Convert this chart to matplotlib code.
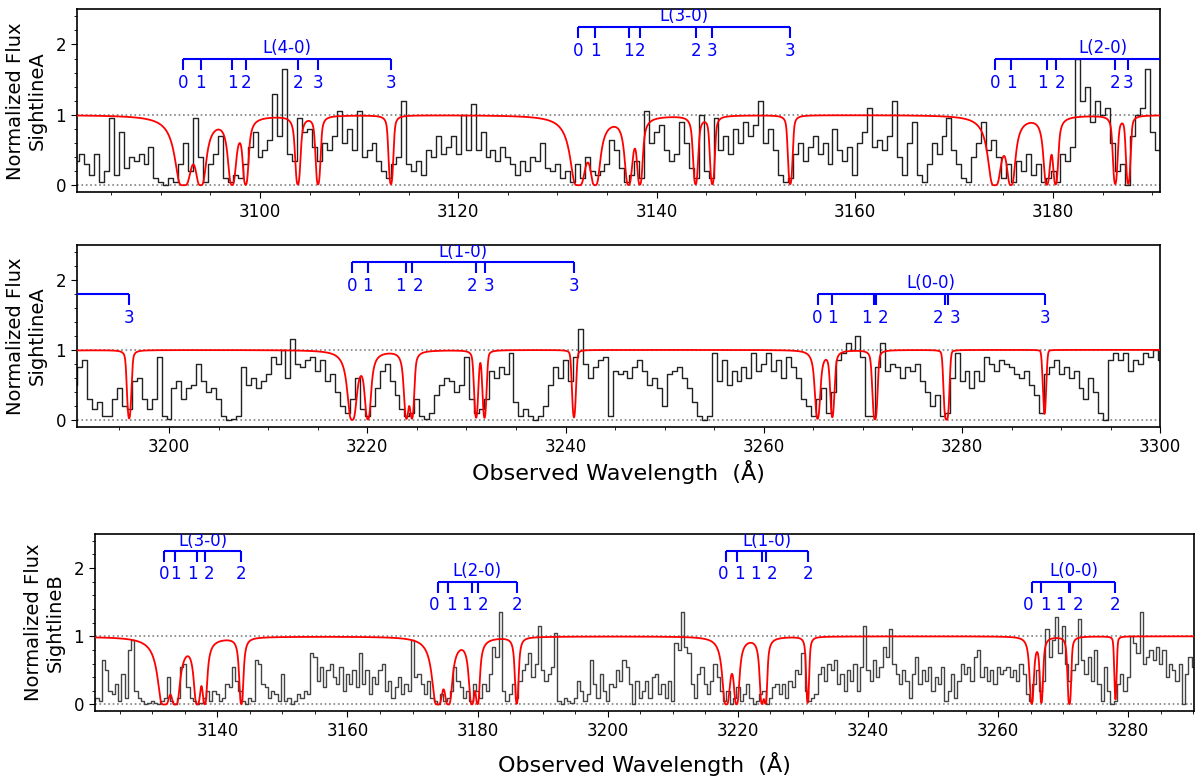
import numpy as np
import matplotlib
matplotlib.use("Agg")
import matplotlib.pyplot as plt
from matplotlib.ticker import MultipleLocator

# ---------------- data ----------------
# H2 Lyman-band rest wavelengths (R0, R1, P1, R2, P2, R3, P3), Angstrom
rest_L00 = [1108.127, 1108.632, 1110.062, 1110.120, 1112.495, 1112.582, 1115.895]
rest_L10 = [1092.195, 1092.732, 1094.052, 1094.244, 1096.438, 1096.725, 1099.787]
rest_L20 = [1077.140, 1077.697, 1078.925, 1079.226, 1081.266, 1081.711, 1084.560]
rest_L30 = [1062.882, 1063.460, 1064.606, 1064.993, 1066.900, 1067.474, 1070.141]
rest_L40 = [1049.367, 1049.960, 1051.033, 1051.498, 1053.284, 1053.976, 1056.471]
band_names = ["L(0-0)", "L(1-0)", "L(2-0)", "L(3-0)", "L(4-0)"]
band_rest = [rest_L00, rest_L10, rest_L20, rest_L30, rest_L40]
band_fR0 = [0.00166, 0.00577, 0.0117, 0.0163, 0.0186]
line_J = [0, 1, 1, 2, 2, 3, 3]
line_fratio = [1.0, 0.64, 0.36, 0.58, 0.42, 0.56, 0.44]

z_A = 1.9468
z_B = 1.94656
wing_A = [36, 23, 6, 3]      # damping-wing strength per J level
wing_B = [56, 45, 13, 0]
jmax_A = 3
jmax_B = 2

# Sightline A spectrum, 0.5 A bins starting at 3081.5 A
wave_A_start = 3081.5
flux_A = [
    0.35, 0.45, 0.30, 0.15, 0.45, 0.05, 0.20, 0.95, 0.15, 0.75,
    0.25, 0.40, 0.35, 0.45, 0.30, 0.55, 0.10, 0.05, 0.00, 0.10,
    0.05, 0.30, 0.60, 0.20, 0.95, 0.40, 0.05, 0.30, 0.45, 0.70,
    0.10, 0.05, 0.15, 0.10, 0.30, 0.55, 0.75, 0.40, 0.50, 0.65,
    1.30, 0.70, 1.65, 0.45, 0.35, 0.95, 0.75, 0.80, 0.55, 0.35,
    0.60, 0.50, 0.70, 1.05, 0.60, 0.80, 0.50, 1.05, 0.40, 0.50,
    0.60, 0.35, 0.20, 0.10, 0.30, 0.40, 1.20, 0.30, 0.20, 0.35,
    0.15, 0.50, 0.40, 0.70, 0.45, 0.55, 0.70, 0.45, 1.00, 0.50,
    1.15, 0.50, 0.75, 0.40, 0.50, 0.35, 0.55, 0.40, 0.30, 0.15,
    0.35, 0.20, 0.40, 0.35, 0.60, 0.25, 0.20, 0.30, 0.10, 0.20,
    0.05, 0.30, 0.10, 0.40, 0.20, 0.15, 0.20, 0.30, 0.65, 0.50,
    0.25, 0.05, 0.15, 0.35, 0.10, 1.05, 0.60, 0.75, 0.85, 0.50,
    0.35, 0.45, 0.90, 0.60, 0.25, 0.10, 1.00, 0.20, 0.10, 0.95,
    0.50, 0.70, 0.45, 0.80, 0.60, 0.90, 0.70, 0.85, 1.20, 0.60,
    0.80, 0.50, 0.15, 0.05, 0.10, 0.45, 0.60, 0.35, 0.55, 0.70,
    0.45, 0.60, 0.30, 0.80, 0.50, 0.35, 0.55, 0.15, 0.60, 0.75,
    1.10, 0.55, 0.65, 0.50, 0.70, 1.20, 0.40, 0.15, 0.60, 0.90,
    0.15, 0.05, 0.30, 0.60, 0.45, 0.70, 0.95, 0.50, 0.30, 0.10,
    0.05, 0.40, 0.60, 0.90, 0.50, 0.65, 0.40, 0.10, 0.30, 0.05,
    0.35, 0.20, 0.45, 0.15, 0.30, 0.05, 0.10, 0.20, 0.05, 0.45,
    0.35, 0.55, 1.80, 1.20, 1.40, 0.90, 1.20, 1.00, 1.10, 0.60,
    0.20, 0.30, 0.00, 0.70, 1.00, 1.10, 1.65, 0.75, 0.50, 0.75,
    0.85, 0.30, 0.15, 0.25, 0.05, 0.05, 0.30, 0.45, 0.20, 0.15,
    0.55, 0.60, 0.30, 0.15, 0.30, 0.90, 0.05, 0.02, 0.45, 0.55,
    0.30, 0.45, 0.50, 0.80, 0.55, 0.40, 0.45, 0.30, 0.05, 0.00,
    0.02, 0.05, 0.75, 0.50, 0.60, 0.45, 0.55, 0.65, 0.90, 0.80,
    1.00, 0.60, 1.15, 0.80, 0.75, 0.85, 0.90, 0.70, 0.85, 0.55,
    0.65, 0.40, 0.20, 0.10, 0.30, 0.60, 0.15, 0.05, 0.20, 0.45,
    0.70, 0.80, 0.55, 0.35, 0.15, 0.05, 0.10, 0.30, 0.05, 0.02,
    0.10, 0.35, 0.50, 0.60, 0.55, 0.40, 0.50, 0.90, 0.30, 0.10,
    0.15, 0.30, 0.70, 0.60, 0.75, 0.65, 0.95, 0.25, 0.05, 0.15,
    0.05, 0.00, 0.05, 0.20, 0.50, 0.75, 0.60, 0.85, 0.55, 0.90,
    1.30, 0.80, 0.60, 0.75, 0.85, 0.90, 0.05, 0.70, 0.65, 0.70,
    0.60, 0.75, 0.85, 0.70, 0.50, 0.60, 0.45, 0.20, 0.65, 0.70,
    0.75, 0.60, 0.45, 0.25, 0.05, 0.00, 0.05, 0.95, 0.55, 0.85,
    0.50, 0.70, 0.55, 0.75, 0.60, 0.95, 0.70, 0.80, 0.95, 0.70,
    0.85, 0.60, 0.90, 0.75, 0.60, 0.30, 0.20, 0.05, 0.30, 0.45,
    0.10, 0.40, 0.85, 0.95, 1.10, 1.00, 1.20, 0.90, 0.05, 0.05,
    0.75, 1.10, 0.70, 0.80, 0.75, 0.60, 0.75, 0.70, 0.80, 0.55,
    0.40, 0.20, 0.35, 0.05, 0.10, 0.60, 0.95, 0.55, 0.70, 0.45,
    0.70, 0.55, 0.90, 0.80, 0.70, 0.85, 0.80, 0.75, 0.65, 0.60,
    0.70, 0.50, 0.35, 0.10, 0.65, 0.75, 0.85, 0.65, 0.75, 0.60,
    0.70, 0.45, 0.30, 0.60, 0.40, 0.10, 0.00, 0.85, 0.95, 0.85,
    0.95, 0.70, 0.85, 0.80, 0.95, 0.90, 1.00, 0.85,
]

# Sightline B spectrum, 0.5 A bins starting at 3121.0 A
wave_B_start = 3121.0
flux_B = [
    0.05, 0.10, 0.05, 0.65, 0.50, 0.20, 0.15, 0.30, 0.05, 0.45,
    0.10, 0.80, 0.95, 0.20, 0.10, 0.05, 0.00, 0.02, 0.05, 0.02,
    0.00, 0.05, 0.10, 0.40, 0.05, 0.00, 0.10, 0.55, 0.60, 0.25,
    0.10, 0.05, 0.00, 0.02, 0.10, 0.20, 0.05, 0.20, 0.15, 0.05,
    0.10, 0.30, 0.25, 0.55, 0.35, 0.20, 0.05, 0.00, 0.10, 0.05,
    0.65, 0.60, 0.30, 0.25, 0.10, 0.20, 0.15, 0.05, 0.45, 0.05,
    0.10, 0.00, 0.05, 0.15, 0.10, 0.20, 0.15, 0.75, 0.70, 0.35,
    0.55, 0.25, 0.50, 0.60, 0.40, 0.30, 0.55, 0.20, 0.45, 0.30,
    0.50, 0.25, 0.75, 0.30, 0.50, 0.15, 0.40, 0.30, 0.50, 0.60,
    0.20, 0.35, 0.10, 0.25, 0.40, 0.15, 0.30, 0.20, 0.95, 0.40,
    0.45, 0.30, 0.15, 0.35, 0.10, 0.05, 0.00, 0.15, 0.05, 0.10,
    0.20, 0.55, 0.35, 0.25, 0.10, 0.20, 0.05, 0.30, 0.20, 0.10,
    0.30, 0.20, 0.45, 0.85, 0.70, 1.35, 0.20, 0.05, 0.15, 0.30,
    0.10, 0.35, 0.50, 0.60, 0.75, 0.40, 0.60, 1.15, 0.50, 0.35,
    0.45, 0.55, 1.05, 0.05, 0.00, 0.10, 0.05, 0.02, 0.10, 0.35,
    0.20, 0.05, 0.15, 0.65, 0.30, 0.10, 0.45, 0.20, 0.05, 0.30,
    0.25, 0.50, 0.35, 0.65, 0.55, 0.30, 0.00, 0.35, 0.10, 0.20,
    0.35, 0.10, 0.40, 0.45, 0.15, 0.30, 0.10, 0.35, 0.05, 0.90,
    0.80, 1.35, 0.85, 0.75, 0.30, 0.10, 0.45, 0.55, 0.30, 0.15,
    0.35, 0.60, 0.40, 0.20, 0.05, 0.20, 0.00, 0.10, 0.25, 0.05,
    0.15, 0.30, 0.10, 0.00, 0.05, 0.15, 0.20, 0.00, 0.10, 0.25,
    0.30, 0.15, 0.30, 0.10, 0.35, 0.25, 0.50, 0.45, 0.75, 0.20,
    0.05, 0.10, 0.15, 0.45, 0.55, 0.35, 0.60, 0.50, 0.65, 0.30,
    0.45, 0.20, 0.50, 0.35, 0.60, 0.20, 0.55, 1.15, 0.50, 0.35,
    0.65, 0.40, 0.55, 0.85, 0.70, 1.10, 0.60, 0.45, 0.30, 0.50,
    0.35, 0.10, 0.45, 0.70, 0.30, 0.50, 0.35, 0.55, 0.20, 0.40,
    0.30, 0.55, 0.05, 0.20, 0.45, 0.10, 0.35, 0.60, 0.45, 0.55,
    0.35, 0.70, 0.80, 0.40, 0.55, 0.35, 0.50, 0.30, 0.55, 0.45,
    0.50, 0.55, 0.40, 0.50, 0.35, 0.60, 0.45, 0.15, 0.05, 0.30,
    0.50, 0.20, 0.35, 1.10, 0.70, 0.95, 1.28, 0.75, 1.15, 0.60,
    0.35, 0.50, 0.60, 1.25, 0.65, 0.45, 0.70, 0.35, 0.80, 0.30,
    0.05, 0.55, 0.20, 0.00, 0.05, 0.30, 0.45, 0.20, 0.40, 1.00,
    0.90, 0.75, 1.35, 0.60, 0.70, 0.80, 0.65, 0.85, 0.60, 0.80,
    0.40, 0.60, 0.50, 0.35, 0.60, 0.00, 0.45, 0.70, 0.55,
]
bin_step = 0.5

xlim_1 = (3081.54, 3190.82)
xlim_2 = (3190.72, 3300.0)
xlim_3 = (3121.2, 3290.1)
brackets_1 = [("L(4-0)", 1.8), ("L(3-0)", 2.25), ("L(2-0)", 1.8)]
brackets_2 = [("L(2-0)", 1.8), ("L(1-0)", 2.25), ("L(0-0)", 1.8)]
brackets_3 = [("L(3-0)", 2.25), ("L(2-0)", 1.8), ("L(1-0)", 2.25), ("L(0-0)", 1.8)]

# --------------- model -----------------
CORE = 20000.0
BW = 0.10
LSF = 0.10
DX = 0.01


def h2_model(grid, zfac, wing, jmax):
    tau = np.zeros_like(grid)
    for rest, fR0 in zip(band_rest, band_fR0):
        for lam0, J, fr in zip(rest, line_J, line_fratio):
            if J > jmax:
                continue
            f = fR0 * fr
            d = grid - lam0 * zfac
            tau += CORE * f * np.exp(-(d / BW) ** 2) + wing[J] * f / (d ** 2 + 1e-4)
    T = np.exp(-np.minimum(tau, 700))
    kx = np.arange(-60, 61) * DX
    k = np.exp(-0.5 * (kx / LSF) ** 2)
    k /= k.sum()
    return np.convolve(T, k, mode="same")


grid = np.arange(3060.0, 3320.0, DX)
model_A = h2_model(grid, 1 + z_A, wing_A, jmax_A)
model_B = h2_model(grid, 1 + z_B, wing_B, jmax_B)

wave_A = wave_A_start + bin_step * np.arange(len(flux_A))
wave_B = wave_B_start + bin_step * np.arange(len(flux_B))

# --------------- figure ----------------
FIG_W = 1200
fig = plt.figure(figsize=(12, 7.81), dpi=100)
pos_1 = [0.06417, 0.75378, 0.90275, 0.23431]
pos_2 = [0.06417, 0.45327, 0.90275, 0.23342]
pos_3 = [0.07917, 0.08925, 0.91583, 0.22702]
ax1 = fig.add_axes(pos_1)
ax2 = fig.add_axes(pos_2)
ax3 = fig.add_axes(pos_3)


def bracket(ax, name, h, zfac, nlines, xlim, px_per_A):
    rest = band_rest[band_names.index(name)]
    obs = [r * zfac for r in rest[:nlines]]
    labs = line_J[:nlines]
    # spread labels of lines that sit too close together
    lx = list(obs)
    i = 0
    while i < len(lx) - 1:
        sep_px = (obs[i + 1] - obs[i]) * px_per_A
        if sep_px < 10.9:
            mid = 0.5 * (obs[i] + obs[i + 1])
            half = 8.5 / px_per_A
            lx[i] = mid - half
            lx[i + 1] = mid + half
            i += 2
        else:
            i += 1
    ax.plot([obs[0], obs[-1]], [h, h], color="blue", lw=1.5,
            solid_capstyle="butt", zorder=5)
    for x, tx, l in zip(obs, lx, labs):
        ax.plot([x, x], [h, h - 0.16], color="blue", lw=1.5,
                solid_capstyle="butt", zorder=5)
        if xlim[0] < tx < xlim[1]:
            ax.text(tx, h - 0.34, str(l), color="blue", ha="center",
                    va="center", fontsize=12, clip_on=True, zorder=6)
    xm = 0.5 * (obs[0] + obs[-1])
    if xlim[0] < xm < xlim[1]:
        ax.text(xm, h + 0.02, name, color="blue", ha="center", va="bottom",
                fontsize=12, clip_on=True, zorder=6)


def panel(ax, pos, xlim, wave, flux, model, zfac, brackets, nlines, specc, ylab):
    px_per_A = pos[2] * FIG_W / (xlim[1] - xlim[0])
    ax.step(wave, flux, where="mid", color=specc, lw=1.0, zorder=2)
    ax.axhline(1.0, color="gray", ls=":", lw=1.2, zorder=1)
    ax.axhline(0.0, color="gray", ls=":", lw=1.2, zorder=1)
    ax.plot(grid, model, color="red", lw=1.3, zorder=3)
    for name, h in brackets:
        bracket(ax, name, h, zfac, nlines, xlim, px_per_A)
    ax.set_xlim(*xlim)
    ax.set_ylim(-0.1, 2.5)
    ax.xaxis.set_major_locator(MultipleLocator(20))
    ax.xaxis.set_minor_locator(MultipleLocator(5))
    ax.yaxis.set_major_locator(MultipleLocator(1))
    ax.yaxis.set_minor_locator(MultipleLocator(0.2))
    ax.tick_params(which="both", direction="out", top=False, right=False,
                   labelsize=12)
    ax.tick_params(which="major", length=4.5)
    ax.tick_params(which="minor", length=2.5)
    ax.set_ylabel(ylab, fontsize=14, labelpad=6)
    for s in ax.spines.values():
        s.set_linewidth(1.2)


panel(ax1, pos_1, xlim_1, wave_A, flux_A, model_A, 1 + z_A, brackets_1, 7,
      "#222222", "Normalized Flux\nSightlineA")
panel(ax2, pos_2, xlim_2, wave_A, flux_A, model_A, 1 + z_A, brackets_2, 7,
      "#222222", "Normalized Flux\nSightlineA")
panel(ax3, pos_3, xlim_3, wave_B, flux_B, model_B, 1 + z_B, brackets_3, 5,
      "#444444", "Normalized Flux\nSightlineB")
ax2.set_xlabel("Observed Wavelength  (Å)", fontsize=16, labelpad=3)
ax3.set_xlabel("Observed Wavelength  (Å)", fontsize=16, labelpad=8)

fig.savefig("out.png", dpi=100)
